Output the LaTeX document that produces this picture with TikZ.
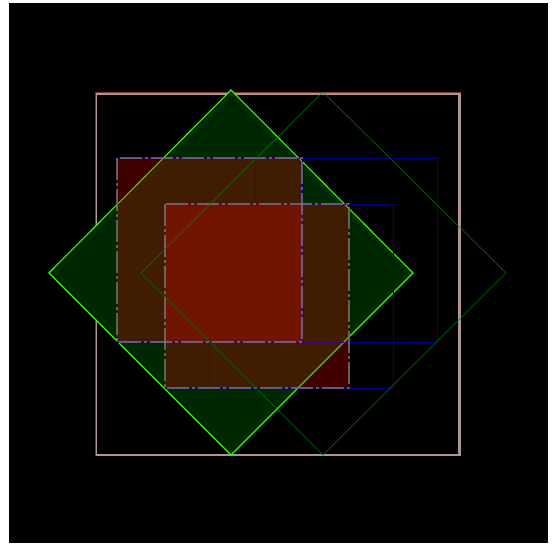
\documentclass[tikz,border=0pt]{standalone}
\usetikzlibrary{calc}
\definecolor{outerc}{RGB}{176,148,148}
\definecolor{outerr}{RGB}{130,50,50}
\definecolor{limec}{RGB}{50,255,0}
\definecolor{dgreen}{RGB}{0,40,0}
\definecolor{fgreen}{RGB}{0,128,0}
\definecolor{navyc}{RGB}{0,0,140}
\definecolor{dashc}{RGB}{128,128,135}
\tikzset{
  redbox/.style={fill=red, fill opacity=0.25, draw=none},
  dashborder/.style={draw=dashc, draw opacity=0.7, line width=1.8pt, dash pattern=on 22pt off 3pt on 3pt off 3pt},
  blueline/.style={draw=navyc, line width=0.8pt},
  maindiamond/.style={fill=dgreen, draw=limec, line width=1.1pt},
  faintdiamond/.style={draw=fgreen, draw opacity=0.8, line width=0.7pt},
  outerbox/.style={draw=outerc, line width=2.4pt},
}
\begin{document}
\begin{tikzpicture}[x=1pt,y=-1pt]
\useasboundingbox (0,0) rectangle (556,543);
\fill[white] (0,0) rectangle (556,543);
\fill[black] (9,3) rectangle (548,543);
% outer frame
\draw[outerbox] (96,93.3) rectangle (459.6,455);
\draw[outerr, line width=0.6pt] (95,92.2) -- (460.5,92.2);
\draw[outerr, line width=0.6pt] (95,92.2) -- (95,456);
% main diamond
\coordinate (dT) at (231,90);
\coordinate (dL) at (49,273);
\coordinate (dB) at (231,455);
\coordinate (dR) at (413,273);
\draw[maindiamond] (dT) -- (dR) -- (dB) -- (dL) -- cycle;
% blue outlines
\draw[blueline] (117,158) rectangle (302,342);
\draw[blueline] (255,158) rectangle (437,342);
\draw[blueline] (165,204) rectangle (349,388);
\draw[blueline] (209,204) rectangle (393,388);
% red boxes
\fill[redbox] (117,158) rectangle (302,342);
\fill[redbox] (165,204) rectangle (349,388);
% dash-dot borders
\draw[dashborder] (117,158) rectangle (302,342);
\draw[dashborder] (165,204) rectangle (349,388);
% faint diamond
\coordinate (fT) at (323,92);
\coordinate (fL) at (141,273);
\coordinate (fB) at (323,455);
\coordinate (fR) at (506,273);
\draw[faintdiamond] (fT) -- (fR) -- (fB) -- (fL) -- cycle;
\end{tikzpicture}
\end{document}
